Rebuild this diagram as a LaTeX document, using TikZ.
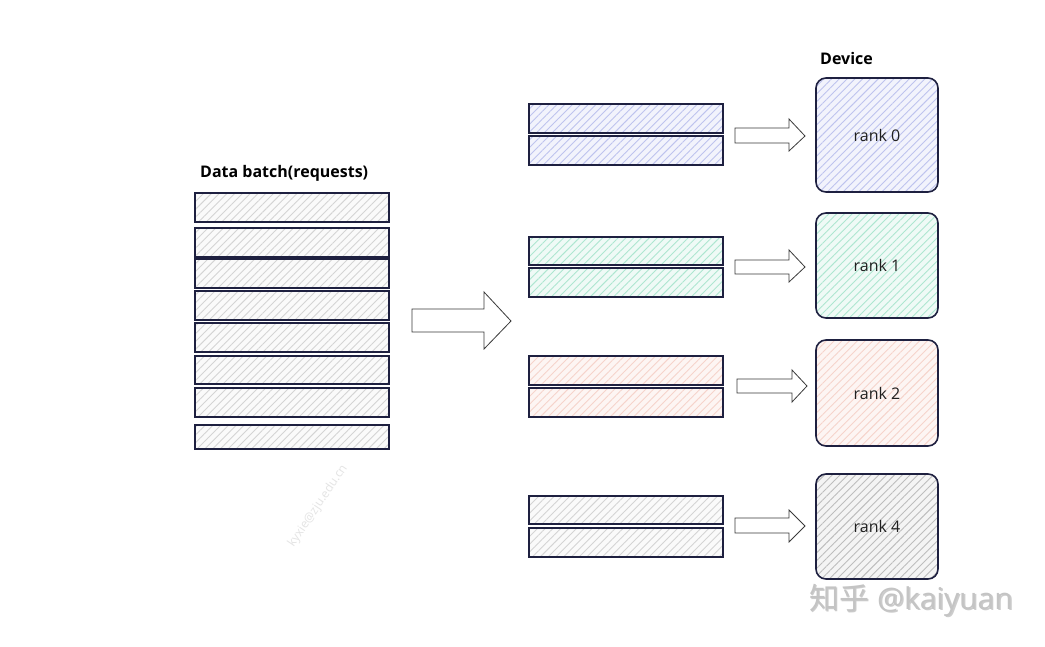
\documentclass[tikz,border=0pt]{standalone}
\usepackage{fontspec}
\setmainfont{Open Sans}
\newfontfamily\cjkfont{Noto Sans CJK SC}
\usetikzlibrary{patterns.meta,calc}
\definecolor{edge}{HTML}{1E2040}
\definecolor{arrowedge}{HTML}{3A3A3A}
\definecolor{hgray}{HTML}{D4D4D4}
\definecolor{fgray}{HTML}{FAFAFA}
\definecolor{hblue}{HTML}{BEC3EE}
\definecolor{fblue}{HTML}{F2F3FC}
\definecolor{hgreen}{HTML}{ADE6D0}
\definecolor{fgreen}{HTML}{EFFAF6}
\definecolor{hpink}{HTML}{F6D3CB}
\definecolor{fpink}{HTML}{FDF5F3}
\definecolor{hdark}{HTML}{BDBDBD}
\definecolor{fdark}{HTML}{F4F4F4}
\definecolor{txt}{HTML}{202020}
\definecolor{wm}{HTML}{C4C4C4}
\definecolor{wmshadow}{HTML}{9A9A9A}
\definecolor{wmlight}{HTML}{E4E4E4}
\tikzset{
  hatch/.style n args={2}{preaction={fill=#2, draw=none}, preaction={draw=none, pattern={Lines[angle=45,distance=5.5pt,line width=0.9pt]}, pattern color=#1}},
  rowbox/.style={draw=edge, line width=1.6pt, inner sep=0pt, outer sep=0pt, anchor=north west, minimum width=194pt},
  devbox/.style={draw=edge, line width=1.6pt, rounded corners=10pt, inner sep=0pt, outer sep=0pt, anchor=north west, minimum width=122pt, font=\fontsize{16}{19}\selectfont, text=txt},
  blockarrow/.style={draw=arrowedge, line width=0.8pt, fill=white, line join=miter},
  heading/.style={font=\bfseries\fontsize{16}{19}\selectfont, text=black, anchor=south west, inner sep=0pt},
}
\begin{document}
\begin{tikzpicture}[x=1pt,y=-1pt]
\useasboundingbox (0,0) rectangle (1045,646);
\fill[white] (0,0) rectangle (1045,646);

% left data batch
\node[heading] (title) at (200,182) {Data batch(requests)};
\node[rowbox, hatch={hgray}{fgray}, minimum height=29pt] (l1) at (195,193) {};
\node[rowbox, hatch={hgray}{fgray}, minimum height=29pt] (l2) at (195,228) {};
\node[rowbox, hatch={hgray}{fgray}, minimum height=29pt] (l3) at (195,259) {};
\node[rowbox, hatch={hgray}{fgray}, minimum height=29pt] (l4) at (195,291) {};
\node[rowbox, hatch={hgray}{fgray}, minimum height=29pt] (l5) at (195,323) {};
\node[rowbox, hatch={hgray}{fgray}, minimum height=28pt] (l6) at (195,356) {};
\node[rowbox, hatch={hgray}{fgray}, minimum height=29pt] (l7) at (195,388) {};
\node[rowbox, hatch={hgray}{fgray}, minimum height=24pt] (l8) at (195,425) {};

% big arrow
\draw[blockarrow] (412,309) -- (484,309) -- (484,292) -- (511,321) -- (484,349) -- (484,332) -- (412,332) -- cycle;

% device label
\node[heading] (devlabel) at (820,65) {Device};

% group 0
\node[rowbox, hatch={hblue}{fblue}, minimum height=29pt] (a1) at (529,104) {};
\node[rowbox, hatch={hblue}{fblue}, minimum height=29pt] (a2) at (529,136) {};
\draw[blockarrow] (735,128) -- (789,128) -- (789,119) -- (805,136) -- (789,151) -- (789,143) -- (735,143) -- cycle;
\node[devbox, hatch={hblue}{fblue}, minimum height=114pt] (r0) at (816,78) {rank 0};

% group 1
\node[rowbox, hatch={hgreen}{fgreen}, minimum height=28pt] (b1) at (529,237) {};
\node[rowbox, hatch={hgreen}{fgreen}, minimum height=29pt] (b2) at (529,268) {};
\draw[blockarrow] (735,260) -- (789,260) -- (789,250) -- (805,267) -- (789,282) -- (789,274) -- (735,274) -- cycle;
\node[devbox, hatch={hgreen}{fgreen}, minimum height=105pt] (r1) at (816,213) {rank 1};

% group 2
\node[rowbox, hatch={hpink}{fpink}, minimum height=29pt] (c1) at (529,356) {};
\node[rowbox, hatch={hpink}{fpink}, minimum height=29pt] (c2) at (529,388) {};
\draw[blockarrow] (737,379) -- (792,379) -- (792,370) -- (807,386) -- (792,402) -- (792,393) -- (737,393) -- cycle;
\node[devbox, hatch={hpink}{fpink}, minimum height=106pt] (r2) at (816,340) {rank 2};

% group 3
\node[rowbox, hatch={hgray}{fgray}, minimum height=28pt] (d1) at (529,496) {};
\node[rowbox, hatch={hgray}{fgray}, minimum height=29pt] (d2) at (529,528) {};
\draw[blockarrow] (735,518) -- (789,518) -- (789,510) -- (805,526) -- (789,542) -- (789,533) -- (735,533) -- cycle;
\node[devbox, hatch={hdark}{fdark}, minimum height=105pt] (r3) at (816,474) {rank 4};

% watermarks
\node[rotate=56, text=wmlight, font=\fontsize{12}{14}\selectfont] (wm1) at (318,506) {kyxie@zju.edu.cn};
\node[text=wmshadow, font=\fontsize{30}{34}\selectfont, inner sep=0pt, opacity=0.5] (wm2s) at (912.5,601.5) {{\cjkfont 知乎} @kaiyuan};
\node[text=wm, font=\fontsize{30}{34}\selectfont, inner sep=0pt] (wm2) at (911,600) {{\cjkfont 知乎} @kaiyuan};
\end{tikzpicture}
\end{document}
